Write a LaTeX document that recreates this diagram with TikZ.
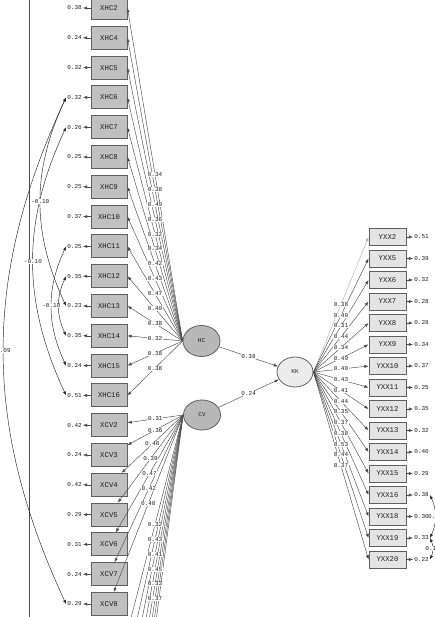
\documentclass[tikz,border=0pt]{standalone}
\usepackage{fontspec}
\setmonofont{Liberation Mono}
\usetikzlibrary{arrows.meta,shapes.geometric}
\definecolor{boxfill}{HTML}{C0C0C0}
\definecolor{yboxfill}{HTML}{E4E4E4}
\definecolor{latfill}{HTML}{B8B8B8}
\definecolor{kkfill}{HTML}{ECECEC}
\definecolor{edge}{HTML}{606060}
\definecolor{txt}{HTML}{202020}
\tikzset{
  obs/.style={draw=edge, fill=boxfill, line width=0.9pt, minimum width=36pt, minimum height=23pt, inner sep=0pt, text=txt, font=\ttfamily\fontsize{7.3}{8}\selectfont},
  obsy/.style={obs, fill=yboxfill, minimum width=37pt, minimum height=17pt},
  lat/.style={ellipse, draw=edge, line width=0.8pt, inner sep=0pt, text=txt, font=\ttfamily\fontsize{6}{7}\selectfont},
  errlab/.style={inner sep=1pt, text=txt, font=\ttfamily\fontsize{6}{7}\selectfont},
  ldlab/.style={fill=white, inner sep=0.4pt, text=txt, font=\ttfamily\fontsize{6}{7}\selectfont},
  covlab/.style={fill=white, inner sep=0.4pt, text=txt, font=\ttfamily\fontsize{6}{7}\selectfont},
  arr/.style={draw=black!70, line width=0.45pt, -{Latex[length=4.2pt,width=3.2pt]}},
  cov/.style={draw=black!85, line width=0.45pt, {Latex[length=4pt,width=3pt]}-{Latex[length=4pt,width=3pt]}},
  frameline/.style={draw=black!70, line width=0.5pt}
}
\begin{document}
\begin{tikzpicture}[x=1pt,y=-1pt]
\useasboundingbox (0,0) rectangle (435,617);
\clip (0,0) rectangle (435,617);
\fill[white] (0,0) rectangle (435,617);
\draw[frameline] (29,-2) -- (29,619);

% latent variables
\node[lat, fill=latfill, minimum width=37pt, minimum height=31pt] (HC) at (201.5,341) {HC};
\node[lat, fill=latfill, minimum width=37pt, minimum height=30pt] (CV) at (202,415) {CV};
\node[lat, fill=kkfill, minimum width=36pt, minimum height=30pt] (KK) at (295,372) {KK};

% left observed variables
\foreach \i/\n/\e in {0/XHC2/0.38, 1/XHC4/0.24, 2/XHC5/0.32, 3/XHC6/0.32, 4/XHC7/0.26, 5/XHC8/0.25, 6/XHC9/0.25, 7/XHC10/0.37, 8/XHC11/0.25, 9/XHC12/0.35, 10/XHC13/0.23, 11/XHC14/0.35, 12/XHC15/0.24, 13/XHC16/0.51, 14/XCV2/0.42, 15/XCV3/0.24, 16/XCV4/0.42, 17/XCV5/0.29, 18/XCV6/0.31, 19/XCV7/0.24, 20/XCV8/0.29}{
  \pgfmathsetmacro\yy{8+29.8*\i}
  \node[obs] (\n) at (109,\yy) {\n};
  \node[errlab] (e\n) at (74.5,\yy) {\e};
  \draw[arr] (\n.west) -- (e\n.east);
}
% further CV indicators below the visible area
\foreach \i in {21,...,28}{
  \pgfmathsetmacro\yy{8+29.8*\i}
  \coordinate (xcv\i) at (127,\yy);
}

% right observed variables
\foreach \j/\n/\e in {0/YXX2/0.51, 1/YXX5/0.39, 2/YXX6/0.32, 3/YXX7/0.28, 4/YXX8/0.28, 5/YXX9/0.34, 6/YXX10/0.37, 7/YXX11/0.25, 8/YXX12/0.35, 9/YXX13/0.32, 10/YXX14/0.40, 11/YXX15/0.29, 12/YXX16/0.38, 13/YXX18/0.30, 14/YXX19/0.33, 15/YXX20/0.22}{
  \pgfmathsetmacro\yy{237+21.5*\j}
  \node[obsy] (\n) at (387.5,\yy) {\n};
  \node[errlab] (e\n) at (421.5,\yy) {\e};
  \draw[arr] (\n.east) -- (e\n.west);
}

% loadings: lines first
\foreach \n in {XHC2,XHC4,XHC5,XHC6,XHC7,XHC8,XHC9,XHC10,XHC11,XHC12,XHC13,XHC14,XHC15,XHC16}{
  \draw[arr] (HC.west) -- (\n.east);
}
\foreach \n in {XCV2,XCV3,XCV4,XCV5,XCV6,XCV7,XCV8,xcv21,xcv22,xcv23,xcv24,xcv25,xcv26,xcv27,xcv28}{
  \draw[arr] (CV.west) -- (\n);
}
\draw[arr, draw=black!30] (KK.east) -- (YXX2.west);
\foreach \n in {YXX5,YXX6,YXX7,YXX8,YXX9,YXX10,YXX11,YXX12,YXX13,YXX14,YXX15,YXX16,YXX18,YXX19,YXX20}{
  \draw[arr] (KK.east) -- (\n.west);
}
% loading labels
\foreach \n/\l in {XHC2/0.34, XHC4/0.38, XHC5/0.49, XHC6/0.36, XHC7/0.32, XHC8/0.34, XHC9/0.42, XHC10/0.43, XHC11/0.47, XHC12/0.40, XHC13/0.38, XHC14/0.32, XHC15/0.38, XHC16/0.38}{
  \path (HC.west) -- node[ldlab]{\l} (\n.east);
}
\foreach \n/\l in {XCV2/0.31, XCV3/0.36, XCV4/0.46, XCV5/0.39, XCV6/0.47, XCV7/0.42, XCV8/0.48, xcv21/0.32, xcv22/0.43, xcv23/0.41, xcv24/0.45, xcv25/0.33, xcv26/0.37}{
  \path (CV.west) -- node[ldlab]{\l} (\n);
}
\foreach \n/\l in {YXX2/0.38, YXX5/0.49, YXX6/0.31, YXX7/0.44, YXX8/0.34, YXX9/0.49, YXX10/0.40, YXX11/0.43, YXX12/0.41, YXX13/0.44, YXX14/0.35, YXX15/0.37, YXX16/0.38, YXX18/0.53, YXX19/0.44, YXX20/0.37}{
  \path (KK.east) -- node[ldlab]{\l} (\n.west);
}

% structural paths
\draw[arr] (HC) -- node[ldlab]{0.38} (KK);
\draw[arr] (CV) -- node[ldlab]{0.24} (KK);

% error covariances
\draw[cov] (eXHC6.west) to[bend right=25] node[covlab]{0.09} (eXCV8.west);
\draw[cov] (eXHC7.west) to[bend right=25] node[covlab]{-0.10} (eXHC16.west);
\draw[cov] (eXHC6.west) to[bend right=25] node[covlab]{-0.10} (eXHC13.west);
\draw[cov] (eXHC12.west) to[bend right=25] (eXHC14.west);
\draw[cov] (eXHC11.west) to[bend right=25] node[covlab]{-0.10} (eXHC15.west);
\draw[cov] (eYXX16.east) to[bend left=25] node[covlab]{0.13} (eYXX19.east);
\draw[cov] (eYXX19.east) to[bend left=25] node[covlab]{0.12} (eYXX20.east);
\end{tikzpicture}
\end{document}
